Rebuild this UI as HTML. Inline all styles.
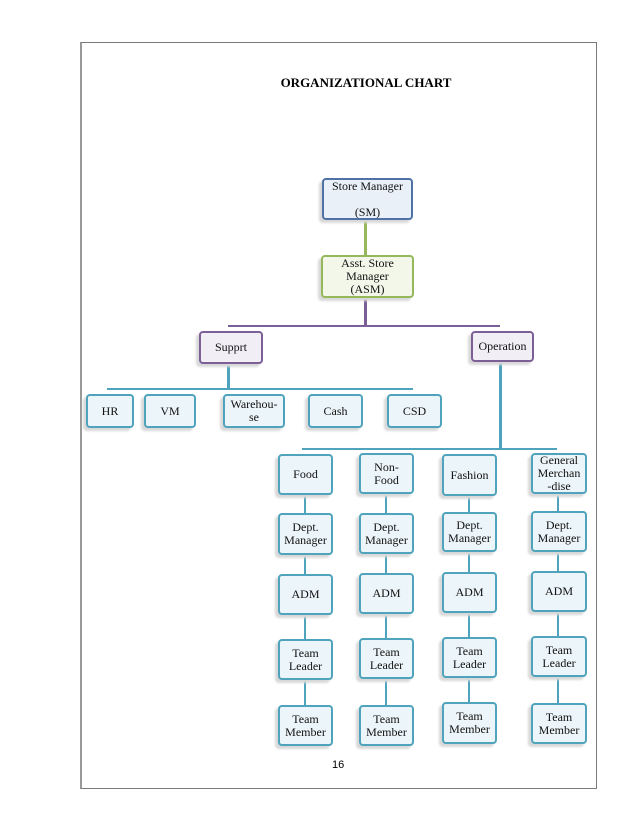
<!DOCTYPE html>
<html><head><meta charset="utf-8"><style>
body{margin:0;background:#fff;width:638px;height:826px;position:relative;overflow:hidden;font-family:"Liberation Serif",serif;}
.pg{position:absolute;left:80px;top:42px;width:514px;height:745px;border:1px solid #7a7a7a;border-left:2px solid #999;}
.b{position:absolute;box-sizing:border-box;border:2px solid #4fa3bc;border-radius:4px;background:#ecf5f9;display:flex;align-items:center;justify-content:center;text-align:center;font-size:12px;line-height:13px;color:#111;box-shadow:-3px 3px 2px #d8d8d8;}
.p{border-color:#7d5f98;background:#f1eef5;}
.g{border-color:#95b85a;background:#f3f7ea;}
.s{border-color:#4f71a6;background:#eaf0f8;}
.l{position:absolute;background:#4fa3bc;}
</style></head><body>
<div class="pg"></div>
<div style="position:absolute;left:240px;top:75px;width:252px;text-align:center;font-weight:bold;font-size:13px;">ORGANIZATIONAL CHART</div>
<div style="position:absolute;left:332px;top:759px;font-family:'Liberation Sans',sans-serif;font-size:11px;">16</div>

<div class="l" style="left:364px;top:220px;width:3px;height:36px;background:#95b85a"></div>
<div class="l" style="left:364px;top:298px;width:3px;height:28px;background:#7d5f98"></div>
<div class="l" style="left:228px;top:325px;width:272px;height:2px;background:#7d5f98"></div>
<div class="l" style="left:227px;top:364px;width:3px;height:25px"></div>
<div class="l" style="left:107px;top:388px;width:306px;height:2px"></div>
<div class="l" style="left:499px;top:362px;width:3px;height:87px"></div>
<div class="l" style="left:302px;top:448px;width:255px;height:2px"></div>

<div class="b s" style="left:322px;top:178px;width:91px;height:42px">Store Manager<br><br style="line-height:4px">(SM)</div>
<div class="b g" style="left:321px;top:255px;width:93px;height:43px">Asst. Store<br>Manager<br>(ASM)</div>
<div class="b p" style="left:199px;top:331px;width:64px;height:33px">Supprt</div>
<div class="b p" style="left:471px;top:331px;width:63px;height:31px">Operation</div>

<div class="b" style="left:86px;top:394px;width:48px;height:34px">HR</div>
<div class="b" style="left:144px;top:394px;width:52px;height:34px">VM</div>
<div class="b" style="left:223px;top:394px;width:62px;height:34px">Warehou-<br>se</div>
<div class="b" style="left:308px;top:394px;width:55px;height:34px">Cash</div>
<div class="b" style="left:387px;top:394px;width:55px;height:34px">CSD</div>

<!-- column lines -->
<div class="l" style="left:304px;top:495px;width:2px;height:210px"></div>
<div class="l" style="left:385px;top:494px;width:2px;height:211px"></div>
<div class="l" style="left:468px;top:496px;width:2px;height:206px"></div>
<div class="l" style="left:557px;top:494px;width:2px;height:209px"></div>

<div class="b" style="left:278px;top:454px;width:55px;height:41px">Food</div>
<div class="b" style="left:278px;top:513px;width:55px;height:42px">Dept.<br>Manager</div>
<div class="b" style="left:278px;top:574px;width:55px;height:41px">ADM</div>
<div class="b" style="left:278px;top:639px;width:55px;height:41px">Team<br>Leader</div>
<div class="b" style="left:278px;top:705px;width:55px;height:41px">Team<br>Member</div>

<div class="b" style="left:359px;top:453px;width:55px;height:41px">Non-<br>Food</div>
<div class="b" style="left:359px;top:513px;width:55px;height:41px">Dept.<br>Manager</div>
<div class="b" style="left:359px;top:573px;width:55px;height:41px">ADM</div>
<div class="b" style="left:359px;top:638px;width:55px;height:41px">Team<br>Leader</div>
<div class="b" style="left:359px;top:705px;width:55px;height:41px">Team<br>Member</div>

<div class="b" style="left:442px;top:454px;width:55px;height:42px">Fashion</div>
<div class="b" style="left:442px;top:512px;width:55px;height:40px">Dept.<br>Manager</div>
<div class="b" style="left:442px;top:572px;width:55px;height:41px">ADM</div>
<div class="b" style="left:442px;top:637px;width:55px;height:41px">Team<br>Leader</div>
<div class="b" style="left:442px;top:702px;width:55px;height:42px">Team<br>Member</div>

<div class="b" style="left:531px;top:453px;width:56px;height:41px">General<br>Merchan<br>-dise</div>
<div class="b" style="left:531px;top:511px;width:56px;height:41px">Dept.<br>Manager</div>
<div class="b" style="left:531px;top:571px;width:56px;height:41px">ADM</div>
<div class="b" style="left:531px;top:636px;width:56px;height:41px">Team<br>Leader</div>
<div class="b" style="left:531px;top:703px;width:56px;height:41px">Team<br>Member</div>
</body></html>
